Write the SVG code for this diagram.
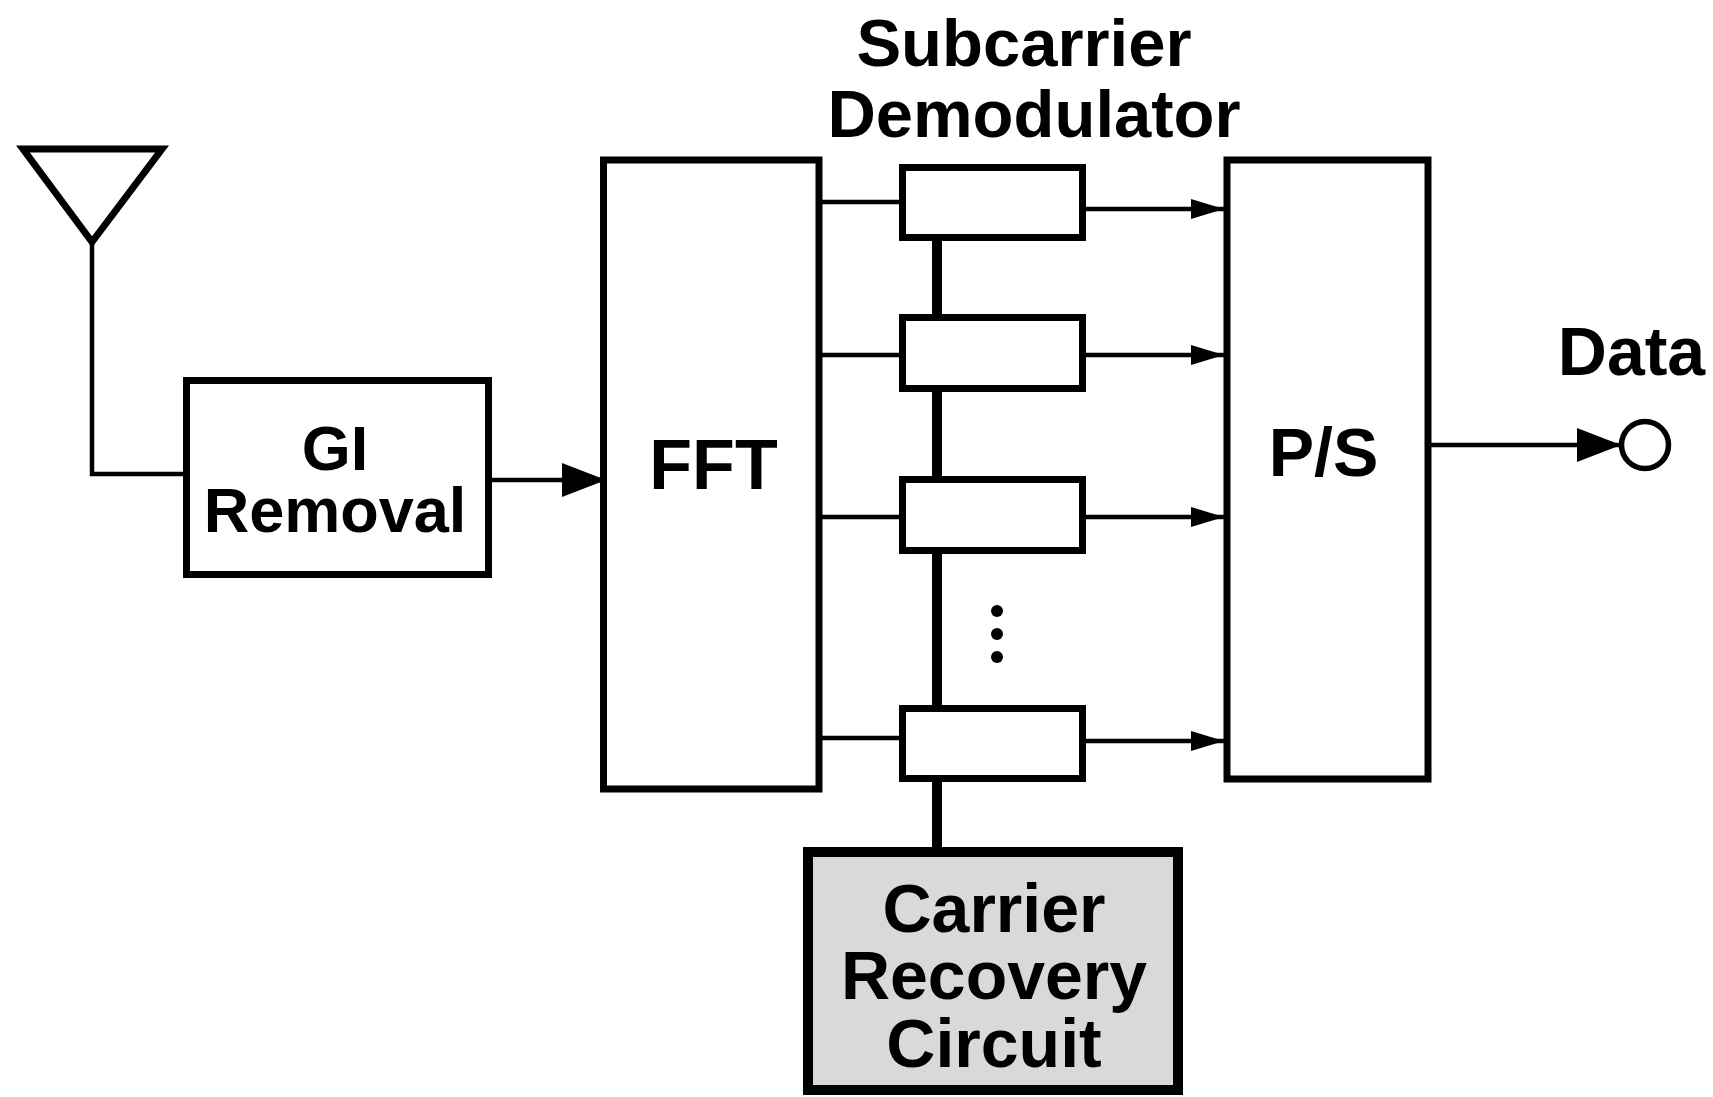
<svg xmlns="http://www.w3.org/2000/svg" width="1713" height="1097" viewBox="0 0 1713 1097">
<style>
.blk{fill:#fff;stroke:#000;stroke-width:7}
.ln{fill:none;stroke:#000;stroke-width:4.5}
.lbl{font-family:"Liberation Sans",Arial,sans-serif;font-weight:bold;fill:#000;text-anchor:middle}
</style>
<defs>
<marker id="arrS" markerUnits="userSpaceOnUse" markerWidth="34" markerHeight="22" refX="33" refY="11" orient="auto">
<polygon points="0,1 33,11 0,21" fill="#000"/>
</marker>
<marker id="arrL" markerUnits="userSpaceOnUse" markerWidth="46" markerHeight="36" refX="44" refY="18" orient="auto">
<polygon points="0,1 44,18 0,35" fill="#000"/>
</marker>
</defs>
<rect width="1713" height="1097" fill="#fff"/>
<g id="connectors">
<polyline class="ln" points="92,242 92,474 186,474"/>
<line class="ln" x1="490" y1="480" x2="606" y2="480" marker-end="url(#arrL)"/>
<line class="ln" x1="819" y1="202" x2="903" y2="202"/>
<line class="ln" x1="819" y1="355" x2="903" y2="355"/>
<line class="ln" x1="819" y1="517" x2="903" y2="517"/>
<line class="ln" x1="819" y1="738" x2="903" y2="738"/>
<line class="ln" x1="1083" y1="209" x2="1224" y2="209" marker-end="url(#arrS)"/>
<line class="ln" x1="1083" y1="355" x2="1224" y2="355" marker-end="url(#arrS)"/>
<line class="ln" x1="1083" y1="517" x2="1224" y2="517" marker-end="url(#arrS)"/>
<line class="ln" x1="1083" y1="741" x2="1224" y2="741" marker-end="url(#arrS)"/>
<line x1="937" y1="238" x2="937" y2="850" stroke="#000" stroke-width="10"/>
<line class="ln" x1="1428" y1="445" x2="1621" y2="445" marker-end="url(#arrL)"/>
</g>
<g id="antenna">
<polygon points="23,149 162,149 92,242" fill="none" stroke="#000" stroke-width="7"/>
</g>
<g id="gi-removal">
<rect class="blk" x="186.5" y="380.5" width="302" height="194"/>
<text class="lbl" x="335" y="470" font-size="63">GI</text>
<text class="lbl" x="335" y="532" font-size="63">Removal</text>
</g>
<g id="fft">
<rect class="blk" x="603.5" y="160" width="215.5" height="629"/>
<text class="lbl" x="713.5" y="489" font-size="70">FFT</text>
</g>
<g id="demod-label">
<text class="lbl" x="1024" y="66" font-size="67">Subcarrier</text>
<text class="lbl" x="1034" y="137" font-size="67">Demodulator</text>
</g>
<g id="demod1"><rect class="blk" x="902.5" y="167.5" width="180" height="70"/></g>
<g id="demod2"><rect class="blk" x="902.5" y="317.5" width="180" height="71"/></g>
<g id="demod3"><rect class="blk" x="902.5" y="479.5" width="180" height="71"/></g>
<g id="demod4"><rect class="blk" x="902.5" y="708.5" width="180" height="70"/></g>
<g id="ellipsis">
<circle cx="997" cy="611" r="6" fill="#000"/>
<circle cx="997" cy="634" r="6" fill="#000"/>
<circle cx="997" cy="657" r="6" fill="#000"/>
</g>
<g id="ps">
<rect class="blk" x="1227" y="160" width="201" height="619"/>
<text class="lbl" x="1323.5" y="476" font-size="68">P/S</text>
</g>
<g id="data-out">
<circle cx="1645" cy="445" r="23.5" fill="#fff" stroke="#000" stroke-width="5.5"/>
<text class="lbl" x="1631.5" y="375" font-size="68">Data</text>
</g>
<g id="carrier-recovery">
<rect x="808" y="852" width="370" height="238" fill="#d9d9d9" stroke="#000" stroke-width="10"/>
<text class="lbl" x="994" y="932" font-size="68">Carrier</text>
<text class="lbl" x="994" y="999" font-size="68">Recovery</text>
<text class="lbl" x="994" y="1067" font-size="68">Circuit</text>
</g>
</svg>
